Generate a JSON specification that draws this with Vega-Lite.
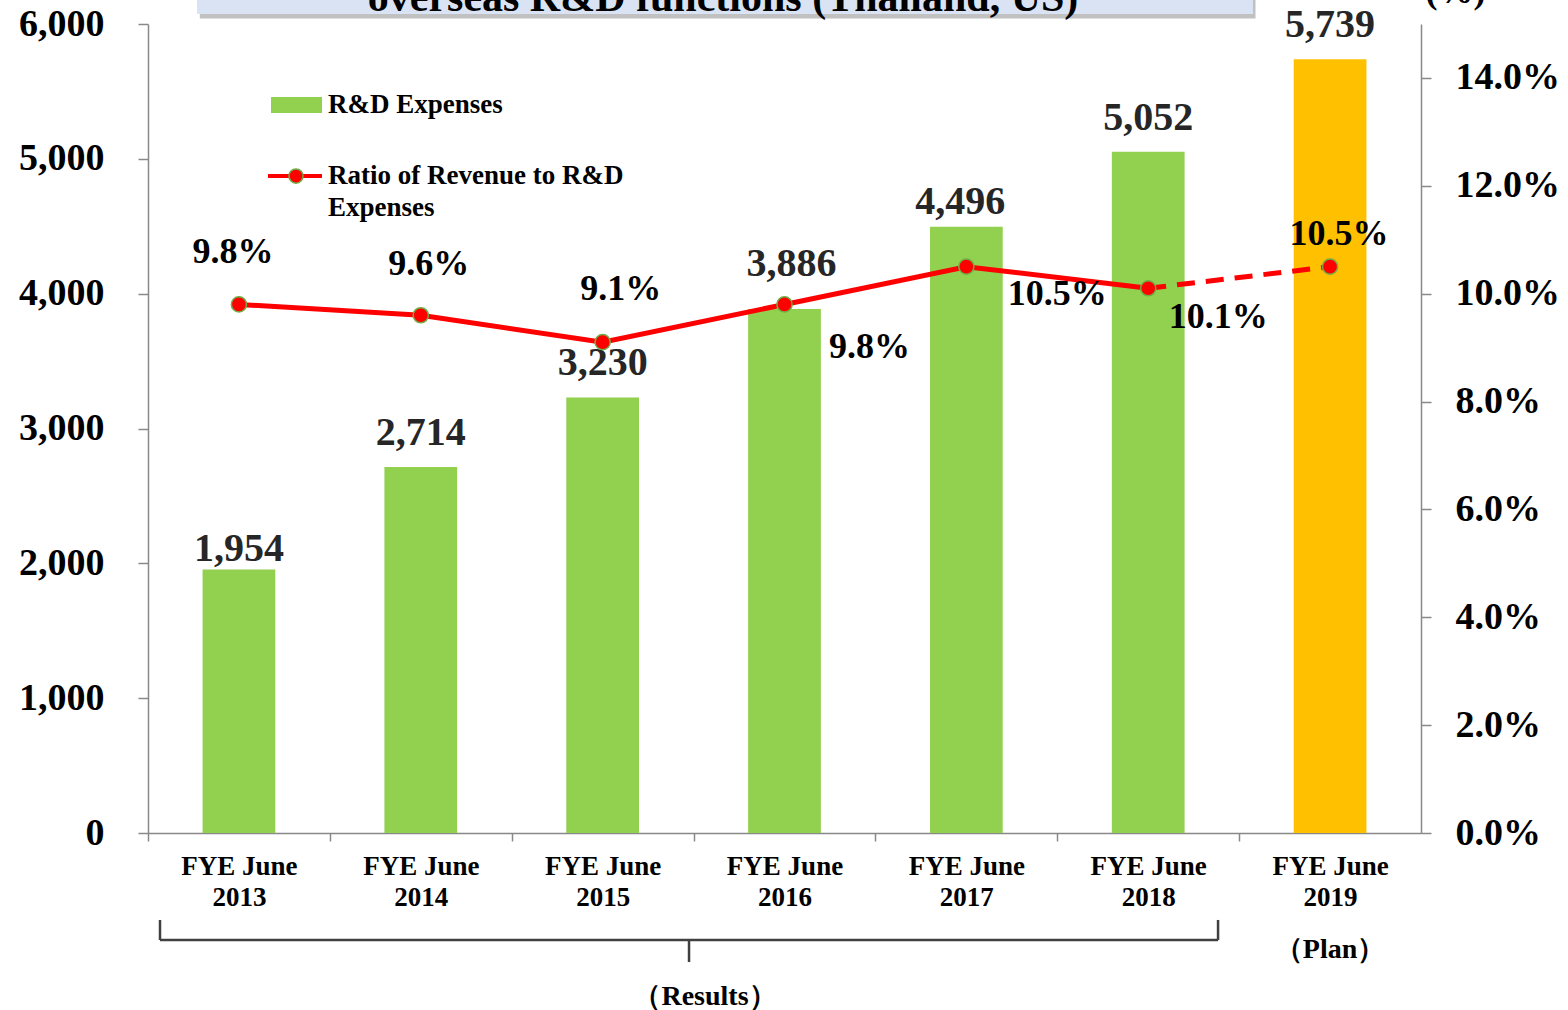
{
  "$schema": "https://vega.github.io/schema/vega-lite/v6.json",
  "width": 1273,
  "height": 809,
  "autosize": {"type": "none"},
  "padding": {"left": 148, "top": 24, "right": 147, "bottom": 177},
  "background": "white",
  "config": {
    "view": {"stroke": null},
    "font": "Liberation Serif",
    "axis": {"labelFont": "Liberation Serif", "labelFontWeight": "bold", "labelColor": "black", "domainColor": "#898989", "tickColor": "#898989", "domainWidth": 1.5, "tickWidth": 1.5, "grid": false, "titleFont": "Liberation Serif", "titleFontWeight": "bold", "titleColor": "black"},
    "text": {"font": "Liberation Serif", "fontWeight": "bold"}
  },
  "datasets": {
    "main": [
      {"year": "FYE June 2013", "rd": 1954, "ratio": 0.098, "phase": "Results"},
      {"year": "FYE June 2014", "rd": 2714, "ratio": 0.096, "phase": "Results"},
      {"year": "FYE June 2015", "rd": 3230, "ratio": 0.091, "phase": "Results"},
      {"year": "FYE June 2016", "rd": 3886, "ratio": 0.098, "phase": "Results"},
      {"year": "FYE June 2017", "rd": 4496, "ratio": 0.105, "phase": "Results"},
      {"year": "FYE June 2018", "rd": 5052, "ratio": 0.101, "phase": "Results"},
      {"year": "FYE June 2019", "rd": 5739, "ratio": 0.105, "phase": "Plan"}
    ]
  },
  "layer": [
    {
      "data": {"name": "main"},
      "encoding": {
        "x": {
          "field": "year", "type": "nominal",
          "scale": {"paddingInner": 0.6, "paddingOuter": 0.3},
          "axis": {"orient": "bottom", "title": null, "labelAngle": 0, "labelExpr": "['FYE June', substring(datum.label, 9)]", "labelFontSize": 27, "labelBaseline": "top", "labelLineHeight": 31, "labelPadding": 12, "tickSize": 8, "tickOffset": -91, "labelOffset": 91}
        }
      },
      "layer": [
        {
          "encoding": {
            "y": {"field": "rd", "type": "quantitative", "scale": {"domain": [0, 6000], "nice": false},
              "axis": {"orient": "left", "title": null, "values": [0, 1000, 2000, 3000, 4000, 5000, 6000], "format": ",.0f", "labelFontSize": 38, "tickSize": 10, "labelPadding": 34}}
          },
          "layer": [
            {
              "mark": {"type": "bar"},
              "encoding": {
                "color": {"field": "phase", "type": "nominal", "scale": {"domain": ["Results", "Plan"], "range": ["#92D050", "#FFC000"]}, "legend": null}
              }
            },
            {
              "transform": [{"filter": "indexof(['FYE June 2014','FYE June 2015','FYE June 2018','FYE June 2019'], datum.year) >= 0"}],
              "mark": {"type": "text", "fontSize": 40, "color": "#262626", "baseline": "alphabetic", "dy": -22},
              "encoding": {"text": {"field": "rd", "type": "quantitative", "format": ","}}
            },
            {
              "transform": [{"filter": "datum.year == 'FYE June 2013'"}],
              "mark": {"type": "text", "fontSize": 40, "color": "#262626", "baseline": "alphabetic", "dy": -9},
              "encoding": {"text": {"field": "rd", "type": "quantitative", "format": ","}}
            },
            {
              "transform": [{"filter": "datum.year == 'FYE June 2016'"}],
              "mark": {"type": "text", "fontSize": 40, "color": "#262626", "baseline": "alphabetic", "dy": -33, "dx": 7},
              "encoding": {"text": {"field": "rd", "type": "quantitative", "format": ","}}
            },
            {
              "transform": [{"filter": "datum.year == 'FYE June 2017'"}],
              "mark": {"type": "text", "fontSize": 40, "color": "#262626", "baseline": "alphabetic", "dy": -13, "dx": -6},
              "encoding": {"text": {"field": "rd", "type": "quantitative", "format": ","}}
            }
          ]
        },
        {
          "encoding": {
            "y": {"field": "ratio", "type": "quantitative", "scale": {"domain": [0, 0.15], "nice": false},
              "axis": {"orient": "right", "values": [0, 0.02, 0.04, 0.06, 0.08, 0.1, 0.12, 0.14], "format": ".1%", "labelFontSize": 38, "tickSize": 10, "labelPadding": 24,
                "title": "(%)", "titleAngle": 0, "titleX": 34, "titleY": -22, "titleFontSize": 36, "titleBaseline": "alphabetic", "titleAlign": "center"}}
          },
          "layer": [
            {
              "transform": [{"filter": "datum.year != 'FYE June 2019'"}],
              "mark": {"type": "line", "color": "#FF0000", "strokeWidth": 5}
            },
            {
              "transform": [{"filter": "datum.year == 'FYE June 2018' || datum.year == 'FYE June 2019'"}],
              "mark": {"type": "line", "color": "#FF0000", "strokeWidth": 5, "strokeDash": [18, 11]}
            },
            {
              "mark": {"type": "circle", "size": 230, "fill": "#FF0000", "stroke": "#70AD47", "strokeWidth": 1.5, "opacity": 1}
            },
            {
              "transform": [{"filter": "datum.year == 'FYE June 2013'"}],
              "mark": {"type": "text", "fontSize": 36, "color": "black", "baseline": "middle", "dx": -6, "dy": -52},
              "encoding": {"text": {"field": "ratio", "type": "quantitative", "format": ".1%"}}
            },
            {
              "transform": [{"filter": "datum.year == 'FYE June 2014'"}],
              "mark": {"type": "text", "fontSize": 36, "color": "black", "baseline": "middle", "dx": 8, "dy": -51},
              "encoding": {"text": {"field": "ratio", "type": "quantitative", "format": ".1%"}}
            },
            {
              "transform": [{"filter": "datum.year == 'FYE June 2015'"}],
              "mark": {"type": "text", "fontSize": 36, "color": "black", "baseline": "middle", "dx": 18, "dy": -53},
              "encoding": {"text": {"field": "ratio", "type": "quantitative", "format": ".1%"}}
            },
            {
              "transform": [{"filter": "datum.year == 'FYE June 2016'"}],
              "mark": {"type": "text", "fontSize": 36, "color": "black", "baseline": "middle", "dx": 85, "dy": 43},
              "encoding": {"text": {"field": "ratio", "type": "quantitative", "format": ".1%"}}
            },
            {
              "transform": [{"filter": "datum.year == 'FYE June 2017'"}],
              "mark": {"type": "text", "fontSize": 36, "color": "black", "baseline": "middle", "dx": 91, "dy": 27},
              "encoding": {"text": {"field": "ratio", "type": "quantitative", "format": ".1%"}}
            },
            {
              "transform": [{"filter": "datum.year == 'FYE June 2018'"}],
              "mark": {"type": "text", "fontSize": 36, "color": "black", "baseline": "middle", "dx": 70, "dy": 29},
              "encoding": {"text": {"field": "ratio", "type": "quantitative", "format": ".1%"}}
            },
            {
              "transform": [{"filter": "datum.year == 'FYE June 2019'"}],
              "mark": {"type": "text", "fontSize": 36, "color": "black", "baseline": "middle", "dx": 9, "dy": -33},
              "encoding": {"text": {"field": "ratio", "type": "quantitative", "format": ".1%"}}
            }
          ]
        }
      ],
      "resolve": {"scale": {"y": "independent"}}
    },
    {
      "data": {"values": [{}]},
      "layer": [
        {
          "mark": {"type": "rect", "color": "#A6A6A6", "opacity": 0.7},
          "encoding": {
            "x": {"datum": 0.285, "type": "quantitative", "scale": {"domain": [0, 7], "nice": false, "zero": false}, "axis": null},
            "x2": {"datum": 6.09},
            "y": {"datum": 6040, "type": "quantitative", "scale": {"domain": [0, 6000], "nice": false}, "axis": null},
            "y2": {"datum": 6600}
          }
        },
        {
          "mark": {"type": "rect", "color": "#DAE3F3"},
          "encoding": {
            "x": {"datum": 0.2694, "type": "quantitative", "scale": {"domain": [0, 7], "nice": false, "zero": false}, "axis": null},
            "x2": {"datum": 6.0762},
            "y": {"datum": 6074, "type": "quantitative", "scale": {"domain": [0, 6000], "nice": false}, "axis": null},
            "y2": {"datum": 6600}
          }
        },
        {
          "mark": {"type": "text", "fontSize": 42, "color": "black", "align": "center", "baseline": "alphabetic", "text": "overseas R&D functions (Thailand, US)"},
          "encoding": {
            "x": {"datum": 3.162, "type": "quantitative", "scale": {"domain": [0, 7], "nice": false, "zero": false}, "axis": null},
            "y": {"datum": 6096, "type": "quantitative", "scale": {"domain": [0, 6000], "nice": false}, "axis": null}
          }
        },
        {
          "mark": {"type": "rect", "color": "#92D050"},
          "encoding": {
            "x": {"datum": 0.6764, "type": "quantitative", "scale": {"domain": [0, 7], "nice": false, "zero": false}, "axis": null},
            "x2": {"datum": 0.9568},
            "y": {"datum": 5340, "type": "quantitative", "scale": {"domain": [0, 6000], "nice": false}, "axis": null},
            "y2": {"datum": 5458}
          }
        },
        {
          "mark": {"type": "text", "fontSize": 27, "color": "black", "align": "left", "baseline": "middle", "text": "R&D Expenses"},
          "encoding": {
            "x": {"datum": 0.9898, "type": "quantitative", "scale": {"domain": [0, 7], "nice": false, "zero": false}, "axis": null},
            "y": {"datum": 5399, "type": "quantitative", "scale": {"domain": [0, 6000], "nice": false}, "axis": null}
          }
        },
        {
          "mark": {"type": "rule", "color": "#FF0000", "strokeWidth": 4},
          "encoding": {
            "x": {"datum": 0.6599, "type": "quantitative", "scale": {"domain": [0, 7], "nice": false, "zero": false}, "axis": null},
            "x2": {"datum": 0.9568},
            "y": {"datum": 4872, "type": "quantitative", "scale": {"domain": [0, 6000], "nice": false}, "axis": null}
          }
        },
        {
          "mark": {"type": "circle", "size": 200, "fill": "#FF0000", "stroke": "#70AD47", "strokeWidth": 1.5, "opacity": 1},
          "encoding": {
            "x": {"datum": 0.8138, "type": "quantitative", "scale": {"domain": [0, 7], "nice": false, "zero": false}, "axis": null},
            "y": {"datum": 4872, "type": "quantitative", "scale": {"domain": [0, 6000], "nice": false}, "axis": null}
          }
        },
        {
          "mark": {"type": "text", "fontSize": 27, "color": "black", "align": "left", "baseline": "middle", "text": "Ratio of Revenue to R&D"},
          "encoding": {
            "x": {"datum": 0.9898, "type": "quantitative", "scale": {"domain": [0, 7], "nice": false, "zero": false}, "axis": null},
            "y": {"datum": 4872, "type": "quantitative", "scale": {"domain": [0, 6000], "nice": false}, "axis": null}
          }
        },
        {
          "mark": {"type": "text", "fontSize": 27, "color": "black", "align": "left", "baseline": "middle", "text": "Expenses"},
          "encoding": {
            "x": {"datum": 0.9898, "type": "quantitative", "scale": {"domain": [0, 7], "nice": false, "zero": false}, "axis": null},
            "y": {"datum": 4635, "type": "quantitative", "scale": {"domain": [0, 6000], "nice": false}, "axis": null}
          }
        },
        {
          "mark": {"type": "rule", "color": "#404040", "strokeWidth": 2.5},
          "encoding": {
            "x": {"datum": 0.066, "type": "quantitative", "scale": {"domain": [0, 7], "nice": false, "zero": false}, "axis": null},
            "x2": {"datum": 5.884},
            "y": {"datum": -794, "type": "quantitative", "scale": {"domain": [0, 6000], "nice": false}, "axis": null}
          }
        },
        {
          "mark": {"type": "rule", "color": "#404040", "strokeWidth": 2.5},
          "encoding": {
            "x": {"datum": 0.066, "type": "quantitative", "scale": {"domain": [0, 7], "nice": false, "zero": false}, "axis": null},
            "y": {"datum": -645, "type": "quantitative", "scale": {"domain": [0, 6000], "nice": false}, "axis": null},
            "y2": {"datum": -794}
          }
        },
        {
          "mark": {"type": "rule", "color": "#404040", "strokeWidth": 2.5},
          "encoding": {
            "x": {"datum": 5.884, "type": "quantitative", "scale": {"domain": [0, 7], "nice": false, "zero": false}, "axis": null},
            "y": {"datum": -645, "type": "quantitative", "scale": {"domain": [0, 6000], "nice": false}, "axis": null},
            "y2": {"datum": -794}
          }
        },
        {
          "mark": {"type": "rule", "color": "#404040", "strokeWidth": 2.5},
          "encoding": {
            "x": {"datum": 2.975, "type": "quantitative", "scale": {"domain": [0, 7], "nice": false, "zero": false}, "axis": null},
            "y": {"datum": -794, "type": "quantitative", "scale": {"domain": [0, 6000], "nice": false}, "axis": null},
            "y2": {"datum": -957}
          }
        },
        {
          "mark": {"type": "text", "fontSize": 28, "color": "black", "align": "center", "baseline": "middle", "text": "（Results）"},
          "encoding": {
            "x": {"datum": 3.063, "type": "quantitative", "scale": {"domain": [0, 7], "nice": false, "zero": false}, "axis": null},
            "y": {"datum": -1216, "type": "quantitative", "scale": {"domain": [0, 6000], "nice": false}, "axis": null}
          }
        },
        {
          "mark": {"type": "text", "fontSize": 28, "color": "black", "align": "center", "baseline": "middle", "text": "（Plan）"},
          "encoding": {
            "x": {"datum": 6.4997, "type": "quantitative", "scale": {"domain": [0, 7], "nice": false, "zero": false}, "axis": null},
            "y": {"datum": -868, "type": "quantitative", "scale": {"domain": [0, 6000], "nice": false}, "axis": null}
          }
        }
      ]
    }
  ],
  "resolve": {"scale": {"x": "independent", "y": "independent"}}
}
